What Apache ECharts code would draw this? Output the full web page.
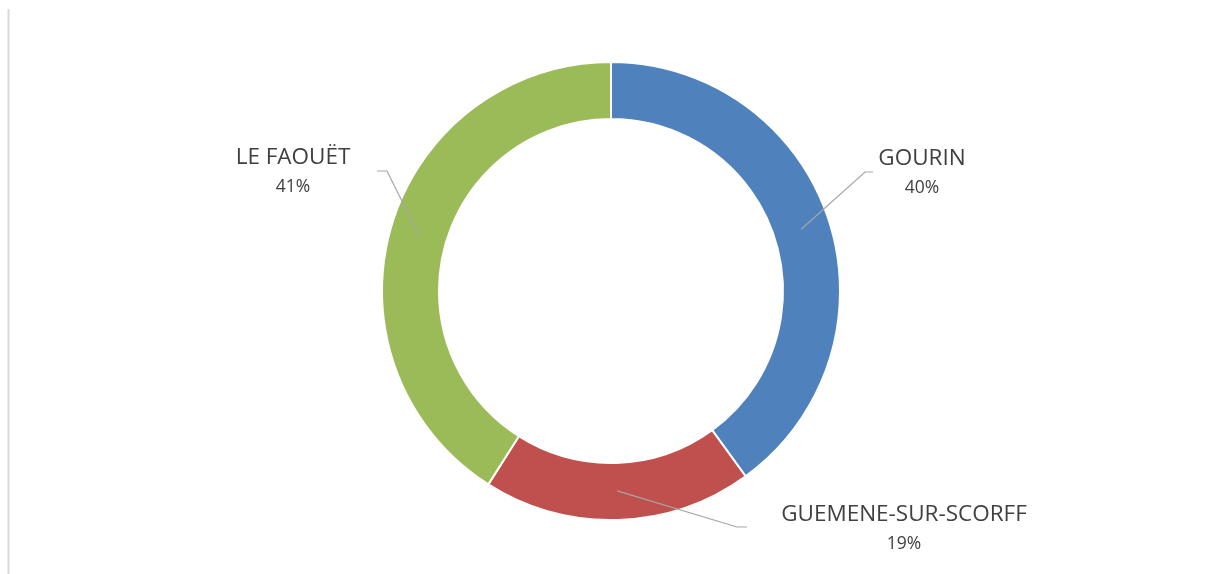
<!DOCTYPE html>
<html>
<head>
<meta charset="utf-8">
<script src="https://cdn.jsdelivr.net/npm/echarts@6/dist/echarts.min.js"></script>
<style>
  html, body { margin: 0; padding: 0; background: #fff; }
  #main { width: 1209px; height: 574px; }
</style>
</head>
<body>
<div id="main"></div>
<script>
// données
const communes = ['GOURIN', 'GUEMENE-SUR-SCORFF', 'LE FAOUËT']
const parts = [40, 19, 41]
const couleurs = ['#4F81BD', '#C0504D', '#9BBB59']

// placement des étiquettes (centre du bloc) + coude / fin du trait
const etiquettes = [
  { x: 922, y: 173, coude: [865, 172], fin: [873, 172] },
  { x: 904, y: 529, coude: [737, 527], fin: [747, 527] },
  { x: 293, y: 172, coude: [387, 171], fin: [377, 171] },
]

var myChart = echarts.init(document.getElementById('main'))

const data = communes.map((nom, i) => ({
  name: nom,
  value: parts[i],
  itemStyle: { color: couleurs[i] },
}))

var option = {
  backgroundColor: '#ffffff',
  animation: false,
  graphic: [
    {
      type: 'line',
      shape: { x1: 8.5, y1: 9, x2: 8.5, y2: 574 },
      style: { stroke: '#d9d9d9', lineWidth: 2 },
      silent: true,
    },
  ],
  series: [
    {
      // anneau
      type: 'pie',
      center: [611, 291],
      radius: [172, 229],
      startAngle: 90,
      clockwise: true,
      silent: true,
      percentPrecision: 0,
      itemStyle: { borderColor: '#ffffff', borderWidth: 2 },
      label: { show: false },
      labelLine: { show: false },
      emphasis: { disabled: true },
      data: data,
    },
    {
      // série invisible : départ des traits au milieu de l'anneau
      type: 'pie',
      center: [611, 291],
      radius: [0, 200],
      startAngle: 90,
      clockwise: true,
      silent: true,
      percentPrecision: 0,
      z: 3,
      itemStyle: { color: 'rgba(0,0,0,0)', borderWidth: 0 },
      emphasis: { disabled: true },
      label: {
        show: true,
        position: 'outside',
        formatter: '{n|{b}}\n{p|{d}%}',
        color: '#404040',
        rich: {
          n: { fontFamily: 'Open Sans', fontSize: 22.5, lineHeight: 30, color: '#404040', align: 'center' },
          p: { fontFamily: 'Open Sans', fontSize: 17.5, lineHeight: 28, color: '#404040', align: 'center' },
        },
      },
      labelLine: {
        show: true,
        length: 20,
        length2: 10,
        lineStyle: { color: '#a6a6a6', width: 1.2 },
      },
      labelLayout: function (params) {
        const e = etiquettes[params.dataIndex]
        const p0 = params.labelLinePoints ? params.labelLinePoints[0] : e.coude
        return {
          x: e.x,
          y: e.y,
          align: 'center',
          verticalAlign: 'middle',
          labelLinePoints: [p0, e.coude, e.fin],
        }
      },
      data: communes.map((nom, i) => ({ name: nom, value: parts[i] })),
    },
  ],
}

option && myChart.setOption(option)
window.addEventListener('resize', function () {
  myChart.resize()
})
</script>
</body>
</html>
